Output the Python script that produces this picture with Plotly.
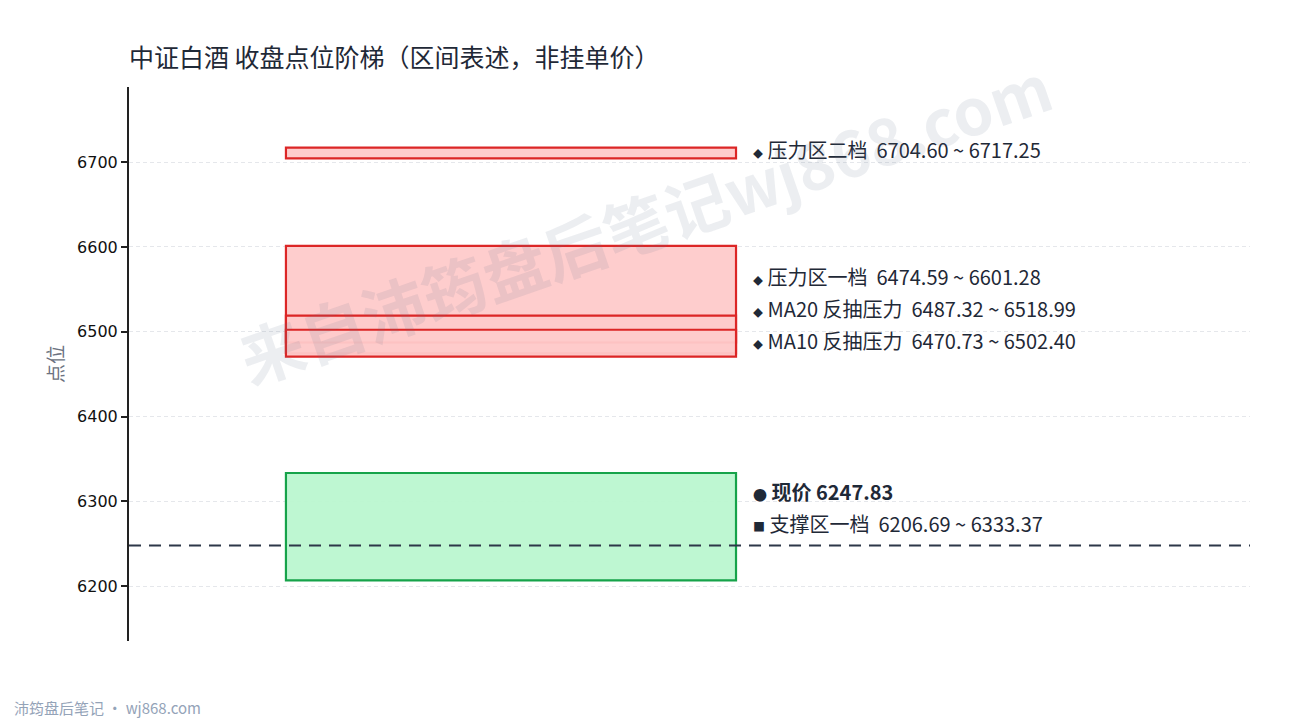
import plotly.graph_objects as go

# zones, listed top to bottom as they appear in the label column
zone_names = ["压力区二档", "压力区一档", "MA20 反抽压力", "MA10 反抽压力", "支撑区一档"]
zone_low = [6704.60, 6474.59, 6487.32, 6470.73, 6206.69]
zone_high = [6717.25, 6601.28, 6518.99, 6502.40, 6333.37]
zone_kind = ["press", "press", "press", "press", "support"]

price_name = "现价"
price_now = 6247.83

title = "中证白酒 收盘点位阶梯（区间表述，非挂单价）"
ytitle = "点位"
yticks = [6200, 6300, 6400, 6500, 6600, 6700]
watermark = "来自沛筠盘后笔记wj868.com"
footer = "沛筠盘后笔记 · wj868.com"

CJK = "Noto Sans CJK SC, Noto Sans, sans-serif"
TXT = "#1f2937"
styles = {
    "press": dict(fill="rgba(254,202,202,0.95)", line="#dc2626"),
    "support": dict(fill="rgba(187,247,208,0.95)", line="#16a34a"),
}

lo_all, hi_all = min(zone_low + [price_now]), max(zone_high + [price_now])
pad = (hi_all - lo_all) * 0.14
y0, y1 = lo_all - pad, hi_all + pad

W, H = 1290, 720
M = dict(l=121, r=48, t=79, b=87)   # page body adds 8px on top/left
plot_w = W - M["l"] - M["r"]
plot_h = H - M["t"] - M["b"]
units_per_px = (y1 - y0) / plot_h

fig = go.Figure()

# zone boxes (between grid and traces so the price line crosses them)
for lo, hi, kind in zip(zone_low, zone_high, zone_kind):
    st = styles[kind]
    fig.add_shape(type="rect", xref="x", yref="y", x0=0.14, x1=0.5415, y0=lo, y1=hi,
                  fillcolor=st["fill"], line=dict(color=st["line"], width=2.2), layer="between")

# current price line
fig.add_trace(go.Scatter(x=[0, 1], y=[price_now, price_now], mode="lines",
                         line=dict(color="#2d3748", width=2, dash="12px,8px"),
                         hoverinfo="skip", showlegend=False))

# labels: same order, pushed upward from the bottom so they don't collide
sp = "&nbsp;"
labels = []
for name, lo, hi, kind in zip(zone_names, zone_low, zone_high, zone_kind):
    mark = "<span style='font-size:10px'>◆</span>" if kind == "press" else "<span style='font-size:12px'>■</span>"
    labels.append(((lo + hi) / 2, f"{mark}{sp}{name}{sp}{sp}{lo:.2f} ~ {hi:.2f}"))
labels.insert(4, (price_now, f"<span style='font-size:14px'>●</span>{sp}<b>{price_name} {price_now:.2f}</b>"))

gap = 32 * units_per_px
placed = []
prev = None
for want, txt in reversed(labels):
    y = want if prev is None else max(want, prev + gap)
    placed.append((y, txt))
    prev = y

for y, txt in placed:
    fig.add_annotation(x=0.5545, y=y, xref="x", yref="y", text=txt, showarrow=False,
                       xanchor="left", yanchor="middle", yshift=3,
                       font=dict(family=CJK, size=20, color=TXT))

# watermark
fig.add_annotation(x=0.46, y=0.76, xref="paper", yref="paper", text=f"<b>{watermark}</b>",
                   showarrow=False, textangle=-19, xanchor="center", yanchor="middle",
                   font=dict(family=CJK, size=64, color="rgba(100,116,139,0.12)"))

# footer
fig.add_annotation(x=(4 - M["l"]) / plot_w, y=-(699 - (H - M["b"])) / plot_h,
                   xref="paper", yref="paper", text=footer, showarrow=False,
                   xanchor="left", yanchor="middle",
                   font=dict(family=CJK, size=15, color="#94a3b8"))

fig.update_layout(
    width=W, height=H, margin=M,
    paper_bgcolor="white", plot_bgcolor="white",
    showlegend=False,
    title=dict(text=title, x=M["l"] / W, xanchor="left", y=1 - 50 / H, yanchor="middle",
               font=dict(family=CJK, size=25, color=TXT)),
    xaxis=dict(range=[0, 1], visible=False, fixedrange=True),
    yaxis=dict(range=[y0, y1], tickvals=yticks, showgrid=True, gridcolor="#e5e7eb",
               griddash="4px,3px", gridwidth=1, zeroline=False,
               showline=True, linecolor="#222", linewidth=2,
               ticks="outside", ticklen=6, tickcolor="#222", tickwidth=2,
               tickfont=dict(family="DejaVu Sans, sans-serif", size=16, color="#111"),
               title=dict(text=ytitle, standoff=8,
                          font=dict(family=CJK, size=19, color="#6b7280"))),
)

fig.write_html("out.html")
